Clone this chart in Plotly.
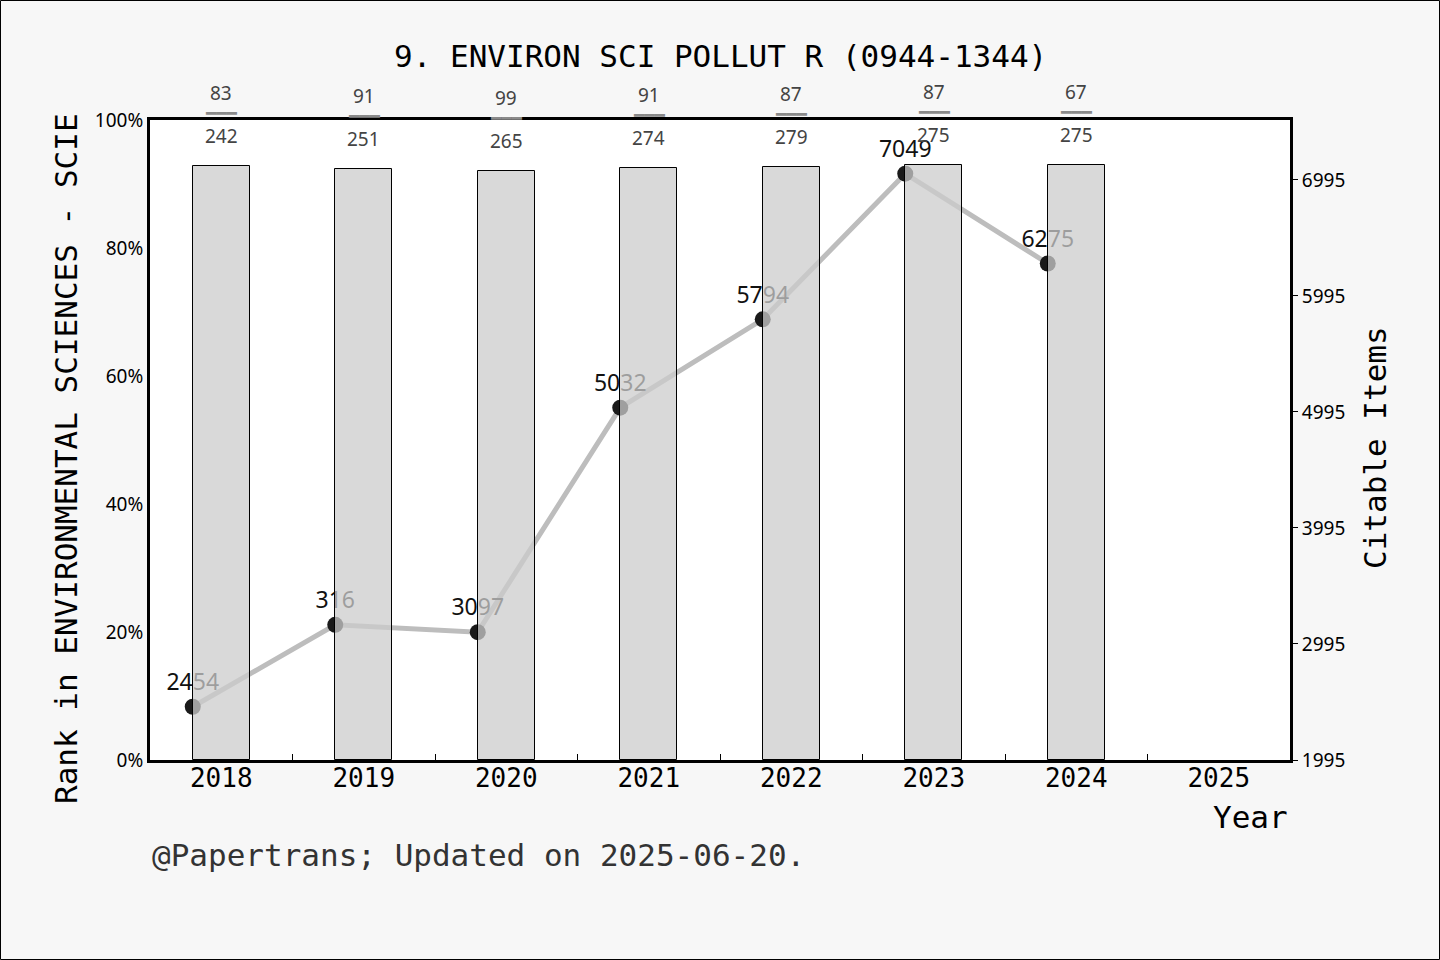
import plotly.graph_objects as go

# ---- data ----
years = ["2018", "2019", "2020", "2021", "2022", "2023", "2024", "2025"]
bar_pct = [92.8, 92.3, 92.0, 92.5, 92.7, 93.0, 93.0]          # bar heights (% axis)
citable = [2454, 3160, 3097, 5032, 5794, 7049, 6275]          # citable items (right axis)
citable_labels = ["2454", "316", "3097", "5032", "5794", "7049", "6275"]
rank = [83, 91, 99, 91, 87, 87, 67]
total = [242, 251, 265, 274, 279, 275, 275]
pct_ticks = [0, 20, 40, 60, 80, 100]
right_ticks = [1995, 2995, 3995, 4995, 5995, 6995]

W, H = 1440, 960
ML, MR, MT, MB = 150, 150, 120, 200
PW, PH = W - ML - MR, H - MT - MB


def px(x):
    return (x - ML) / PW


def py(y):
    return (H - MB - y) / PH


MONO = "DejaVu Sans Mono"
SANS = "Noto Sans"

fig = go.Figure()

n = len(citable)
xs_bar = list(range(n))
xs_line = [i - 0.2 for i in range(n)]

# line (under bars) on primary y (right side)
fig.add_trace(go.Scatter(
    x=xs_line, y=citable, yaxis="y", mode="lines+markers+text",
    text=citable_labels, textposition="top center",
    textfont=dict(family=SANS, size=23, color="#111111"),
    line=dict(color="#bdbdbd", width=5),
    marker=dict(size=16, color="#1a1a1a"),
    cliponaxis=False, showlegend=False, hoverinfo="skip",
))

# bars (on top) on overlaying y2 (left side)
fig.add_trace(go.Bar(
    x=xs_bar, y=bar_pct, yaxis="y2", width=0.4,
    marker=dict(color="rgba(204,204,204,0.75)", line=dict(color="black", width=1)),
    showlegend=False, hoverinfo="skip",
))

annotations = []
for i in range(n):
    annotations.append(dict(x=i, y=bar_pct[i], xref="x", yref="y2", yshift=73,
                            text=str(rank[i]), showarrow=False,
                            font=dict(family=SANS, size=19, color="#444444")))
    annotations.append(dict(x=i, y=bar_pct[i], xref="x", yref="y2", yshift=53,
                            text="━━━", showarrow=False,
                            font=dict(family=MONO, size=17, color="#8a8a8a")))
    annotations.append(dict(x=i, y=bar_pct[i], xref="x", yref="y2", yshift=30,
                            text=str(total[i]), showarrow=False,
                            font=dict(family=SANS, size=19, color="#444444")))

# titles and labels
annotations += [
    dict(x=px(720), y=py(56), xref="paper", yref="paper", showarrow=False,
         text="9. ENVIRON SCI POLLUT R (0944-1344)",
         font=dict(family=MONO, size=31, color="black"), xanchor="center", yanchor="middle"),
    dict(x=px(66), y=py(459), xref="paper", yref="paper", showarrow=False, textangle=-90,
         text="Rank in ENVIRONMENTAL SCIENCES - SCIE",
         font=dict(family=MONO, size=31, color="black"), xanchor="center", yanchor="middle"),
    dict(x=px(1375), y=py(447), xref="paper", yref="paper", showarrow=False, textangle=-90,
         text="Citable Items",
         font=dict(family=MONO, size=31, color="black"), xanchor="center", yanchor="middle"),
    dict(x=px(1290), y=py(817), xref="paper", yref="paper", showarrow=False,
         text="Year",
         font=dict(family=MONO, size=31, color="black"), xanchor="right", yanchor="middle"),
    dict(x=px(150), y=py(855), xref="paper", yref="paper", showarrow=False,
         text="@Papertrans; Updated on 2025-06-20.",
         font=dict(family=MONO, size=31, color="#333333"), xanchor="left", yanchor="middle"),
]

fig.update_layout(
    width=W, height=H,
    margin=dict(l=ML, r=MR, t=MT, b=MB),
    paper_bgcolor="#f7f7f7", plot_bgcolor="white",
    bargap=0,
    xaxis=dict(
        range=[-0.5, len(years) - 0.5],
        tickmode="array", tickvals=list(range(len(years))), ticktext=years,
        ticks="", showgrid=False, zeroline=False,
        showline=True, linecolor="black", linewidth=3, mirror=True,
        tickfont=dict(family=MONO, size=26, color="black"),
        ticklabelstandoff=-7,
        minor=dict(tickmode="array", tickvals=[i + 0.5 for i in range(len(years) - 1)],
                   ticks="inside", ticklen=6, tickwidth=1, tickcolor="black", showgrid=False),
    ),
    yaxis=dict(
        side="right", range=[1995, 7512],
        tickmode="array", tickvals=right_ticks, ticktext=[str(v) for v in right_ticks],
        ticks="outside", ticklen=5, tickwidth=1, tickcolor="black",
        showgrid=False, zeroline=False,
        showline=True, linecolor="black", linewidth=3,
        tickfont=dict(family=SANS, size=19, color="black"),
    ),
    yaxis2=dict(
        overlaying="y", side="left", range=[0, 100],
        tickmode="array", tickvals=pct_ticks, ticktext=[f"{v}%" for v in pct_ticks],
        ticks="", showgrid=False, zeroline=False,
        showline=True, linecolor="black", linewidth=3,
        tickfont=dict(family=SANS, size=19, color="black"),
    ),
    annotations=annotations,
    shapes=[dict(type="rect", xref="paper", yref="paper",
                 x0=px(0.5), x1=px(W - 0.5), y0=py(H - 0.5), y1=py(0.5),
                 line=dict(color="black", width=1), fillcolor="rgba(0,0,0,0)", layer="above")],
)

fig.write_html("out.html")
